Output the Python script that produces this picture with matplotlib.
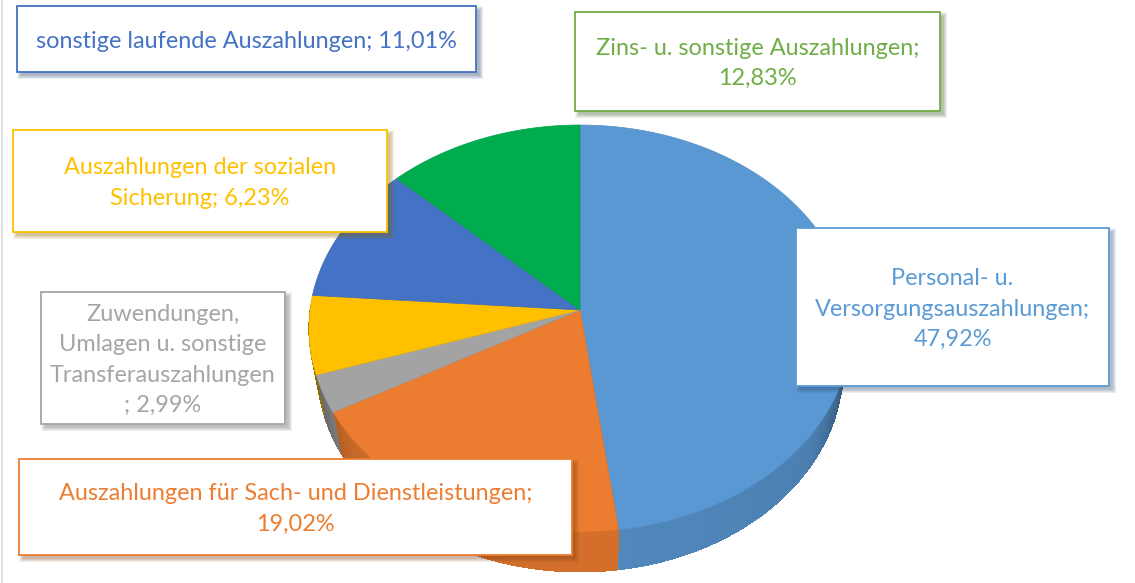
import numpy as np
import matplotlib
matplotlib.use("Agg")
import matplotlib.pyplot as plt
from matplotlib.patches import Rectangle
from matplotlib.colors import to_rgb

# shares in percent, clockwise from 12 o'clock
labels = ["Personal- u.\nVersorgungsauszahlungen;\n47,92%",
          "Auszahlungen für Sach- und Dienstleistungen;\n19,02%",
          "Zuwendungen,\nUmlagen u. sonstige\nTransferauszahlungen\n; 2,99%",
          "Auszahlungen der sozialen\nSicherung; 6,23%",
          "sonstige laufende Auszahlungen; 11,01%",
          "Zins- u. sonstige Auszahlungen;\n12,83%"]
values = [47.92, 19.02, 2.99, 6.23, 11.01, 12.83]
colors = ["#5A98D3", "#EC7C30", "#A3A3A3", "#FFC000", "#4472C4", "#00AD4E"]

# label boxes: left, top, right, bottom in image pixels
boxes = [(796, 228, 1109, 386), (19, 459, 572, 555), (41, 292, 285, 424),
         (13, 130, 387, 232), (17, 6, 476, 72), (575, 12, 940, 111)]
text_colors = ["#5B9BD5", "#ED7D31", "#A5A5A5", "#FFC000", "#4472C4", "#70AD47"]

W, H = 1135, 583
fig = plt.figure(figsize=(W / 100, H / 100), dpi=100)
ax = fig.add_axes([0, 0, 1, 1])
ax.set_xlim(0, W)
ax.set_ylim(H, 0)
ax.axis("off")

cx, cy, rx, ry, k = 580, 310, 270, 201.8, 0.0909
depth = 40
shrink = 0.97


def rim(a):
    # perspective view of the pie edge, a in degrees clockwise from the top
    t = np.radians(a)
    u, v = np.sin(t), -np.cos(t)
    d = 1 - k * v
    return cx + rx * u / d, cy + ry * v / d


def darker(col, f):
    return tuple(c * f for c in to_rgb(col))


# side wall in thin strips so it gets darker towards the ends
start = 0
for v, col in zip(values, colors):
    end = start + v * 3.6
    a0, a1 = max(start, 90), min(end, 270)
    if a1 > a0:
        steps = np.arange(a0, a1 + 1, 1.0)
        for s0, s1 in zip(steps[:-1], steps[1:]):
            x, y = rim(np.array([s0, s1 + 0.6]))
            xb = cx + (x - cx) * shrink
            off = abs((s0 + s1) / 2 - 180) / 90
            f = 0.9 - 0.1 * off - 0.4 * max(0, off - 0.6) / 0.4
            ax.fill([x[0], x[1], xb[1], xb[0]], [y[0], y[1], y[1] + depth, y[0] + depth],
                    facecolor=darker(col, f), lw=0, antialiased=False, zorder=1)
    start = end

# top face
start = 0
for v, col in zip(values, colors):
    end = start + v * 3.6
    x, y = rim(np.linspace(start, end, 120))
    ax.fill(np.r_[cx, x], np.r_[cy, y], facecolor=col, edgecolor=darker(col, 0.93),
            lw=0.5, zorder=2)
    start = end

# light frame line on the left of the image
ax.plot([2, 2], [0, H], color="#E3E3E3", lw=1.5, zorder=0)

for lab, box, tc in zip(labels, boxes, text_colors):
    l, t, r, b = box
    # soft shadow from stacked transparent rectangles
    for g in range(9):
        ax.add_patch(Rectangle((l + g * 0.5, t + g * 0.5), r - l + 7 - g, b - t + 7 - g,
                               facecolor=darker(tc, 0.55), alpha=0.05, lw=0, zorder=4))
    ax.add_patch(Rectangle((l, t), r - l, b - t, facecolor="white", edgecolor=tc,
                           lw=1.3, zorder=5))
    ax.text((l + r) / 2, (t + b) / 2 + 2, lab, color=tc, ha="center", va="center",
            family="Lato", fontsize=16.9, linespacing=1.53, zorder=6)

fig.savefig("out.png", dpi=100)
